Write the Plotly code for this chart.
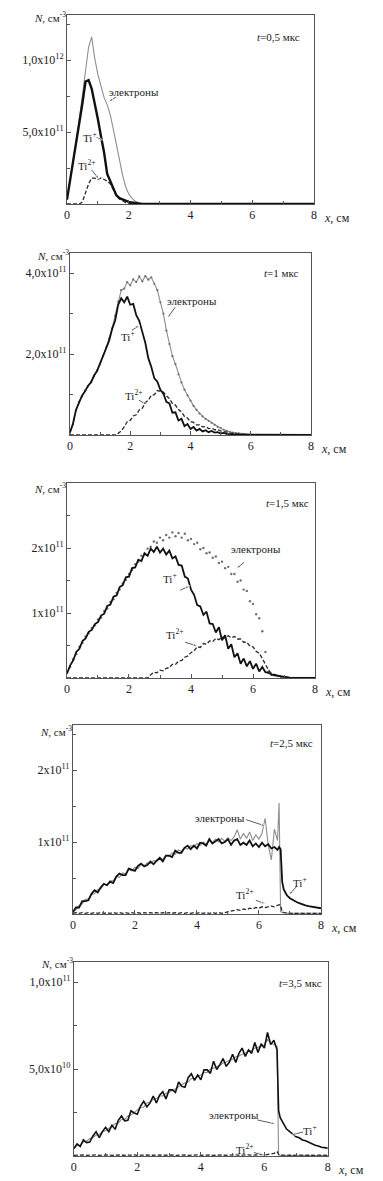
import plotly.graph_objects as go

W, H = 383, 1181
FONT = "Liberation Serif"

# ---------------- data (densities; unit noted per panel) ----------------
# Panel 1: t = 0.5 us, values in 1e11 cm^-3
X1 = [0.0, 0.1, 0.2, 0.3, 0.4, 0.5, 0.6, 0.7, 0.8, 0.9,
      1.0, 1.1, 1.2, 1.3, 1.4, 1.5, 1.6, 1.7, 1.8, 1.9,
      2.0, 2.1, 2.2, 2.3, 2.4, 2.5, 3.0, 8.0]
E1 = [0.3, 1.6, 3.0, 4.4, 5.9, 7.5, 9.3, 10.9, 11.6, 10.1,
      9.0, 8.1, 7.4, 6.9, 6.2, 5.2, 4.1, 3.0, 2.0, 1.2,
      0.7, 0.4, 0.2, 0.1, 0.05, 0.02, 0.0, 0.0]
TI1_PLUS = [0.3, 1.6, 2.9, 4.2, 5.6, 7.0, 8.5, 8.6, 8.0, 7.0,
            5.9, 4.7, 3.6, 2.1, 1.6, 1.0, 0.6, 0.4, 0.3, 0.2,
            0.15, 0.1, 0.05, 0.02, 0.0, 0.0, 0.0, 0.0]
TI1_2PLUS = [0.0, 0.0, 0.0, 0.0, 0.0, 0.15, 0.8, 1.4, 1.8, 1.8,
             1.7, 1.8, 1.7, 1.6, 1.4, 1.0, 0.6, 0.35, 0.2, 0.1,
             0.05, 0.02, 0.0, 0.0, 0.0, 0.0, 0.0, 0.0]

# Panels 2 and 3 share this grid
X_FULL = [0.0, 0.1, 0.2, 0.3, 0.4, 0.5, 0.6, 0.7, 0.8, 0.9,
          1.0, 1.1, 1.2, 1.3, 1.4, 1.5, 1.6, 1.7, 1.8, 1.9,
          2.0, 2.1, 2.2, 2.3, 2.4, 2.5, 2.6, 2.7, 2.8, 2.9,
          3.0, 3.1, 3.2, 3.3, 3.4, 3.5, 3.6, 3.7, 3.8, 3.9,
          4.0, 4.1, 4.2, 4.3, 4.4, 4.5, 4.6, 4.7, 4.8, 4.9,
          5.0, 5.1, 5.2, 5.3, 5.4, 5.5, 5.6, 5.7, 5.8, 5.9,
          6.0, 6.1, 6.2, 6.3, 6.4, 6.5, 6.6, 6.7, 6.8, 6.9,
          7.0, 7.1, 7.2, 7.3, 7.4, 7.5, 7.6, 7.7, 7.8, 7.9, 8.0]

# Panel 2: t = 1 us, 1e11 cm^-3
E2 = [0.05, 0.26, 0.60, 0.82, 0.95, 1.10, 1.20, 1.32, 1.45, 1.60,
      1.76, 1.96, 2.16, 2.38, 2.64, 2.95, 3.30, 3.58, 3.62, 3.78,
      3.70, 3.85, 3.78, 3.92, 3.80, 3.93, 3.84, 3.90, 3.74, 3.58,
      3.28, 3.00, 2.58, 2.25, 1.95, 1.75, 1.50, 1.30, 1.12, 0.98,
      0.85, 0.72, 0.62, 0.53, 0.46, 0.40, 0.35, 0.30, 0.25, 0.20,
      0.17, 0.13, 0.10, 0.08, 0.06, 0.05, 0.04, 0.03, 0.02, 0.01,
      0.01, 0.0, 0.0, 0.0, 0.0, 0.0, 0.0, 0.0, 0.0, 0.0,
      0.0, 0.0, 0.0, 0.0, 0.0, 0.0, 0.0, 0.0, 0.0, 0.0, 0.0]
TI2_PLUS = [0.06, 0.28, 0.62, 0.80, 0.97, 1.08, 1.22, 1.30, 1.47, 1.58,
            1.77, 1.93, 2.17, 2.33, 2.62, 2.83, 3.22, 3.38, 3.28, 3.42,
            3.22, 3.24, 2.96, 2.82, 2.55, 2.28, 1.90, 1.68, 1.40, 1.32,
            1.12, 1.02, 0.82, 0.78, 0.55, 0.56, 0.36, 0.40, 0.22, 0.27,
            0.15, 0.20, 0.11, 0.15, 0.09, 0.12, 0.07, 0.10, 0.06, 0.07,
            0.04, 0.05, 0.03, 0.03, 0.02, 0.01, 0.01, 0.0, 0.0, 0.0,
            0.0, 0.0, 0.0, 0.0, 0.0, 0.0, 0.0, 0.0, 0.0, 0.0,
            0.0, 0.0, 0.0, 0.0, 0.0, 0.0, 0.0, 0.0, 0.0, 0.0, 0.0]
TI2_2PLUS = [0.0, 0.0, 0.0, 0.0, 0.0, 0.0, 0.0, 0.0, 0.0, 0.0,
             0.0, 0.0, 0.0, 0.0, 0.0, 0.0, 0.04, 0.10, 0.20, 0.33,
             0.36, 0.47, 0.50, 0.62, 0.66, 0.80, 0.86, 0.98, 1.00, 1.10,
             1.08, 1.06, 0.97, 0.90, 0.78, 0.74, 0.63, 0.57, 0.46, 0.42,
             0.33, 0.31, 0.25, 0.25, 0.20, 0.21, 0.16, 0.17, 0.13, 0.13,
             0.10, 0.09, 0.07, 0.05, 0.04, 0.03, 0.02, 0.01, 0.0, 0.0,
             0.0, 0.0, 0.0, 0.0, 0.0, 0.0, 0.0, 0.0, 0.0, 0.0,
             0.0, 0.0, 0.0, 0.0, 0.0, 0.0, 0.0, 0.0, 0.0, 0.0, 0.0]

# Panel 3: t = 1.5 us, 1e11 cm^-3
E3 = [0.08, 0.17, 0.29, 0.37, 0.48, 0.54, 0.64, 0.69, 0.77, 0.81,
      0.90, 0.93, 1.03, 1.07, 1.17, 1.21, 1.31, 1.36, 1.46, 1.51,
      1.60, 1.66, 1.75, 1.79, 1.88, 1.90, 1.99, 2.02, 2.10, 2.08,
      2.16, 2.12, 2.20, 2.16, 2.24, 2.18, 2.23, 2.16, 2.22, 2.12,
      2.14, 2.06, 2.08, 1.98, 2.00, 1.92, 1.93, 1.85, 1.87, 1.77,
      1.79, 1.69, 1.71, 1.60, 1.60, 1.48, 1.50, 1.36, 1.34, 1.18,
      1.14, 0.98, 0.92, 0.72, 0.40, 0.10, 0.05, 0.04, 0.03, 0.02,
      0.01, 0.0, 0.0, 0.0, 0.0, 0.0, 0.0, 0.0, 0.0, 0.0, 0.0]
TI3_PLUS = [0.07, 0.19, 0.27, 0.40, 0.45, 0.57, 0.61, 0.71, 0.74, 0.83,
            0.86, 0.96, 0.99, 1.11, 1.13, 1.25, 1.27, 1.40, 1.43, 1.55,
            1.56, 1.69, 1.70, 1.82, 1.80, 1.92, 1.88, 1.99, 1.94, 2.02,
            1.93, 1.99, 1.90, 1.96, 1.84, 1.87, 1.74, 1.73, 1.56, 1.53,
            1.36, 1.28, 1.12, 1.10, 0.97, 1.02, 0.84, 0.83, 0.70, 0.78,
            0.58, 0.66, 0.45, 0.52, 0.32, 0.38, 0.22, 0.30, 0.18, 0.26,
            0.14, 0.22, 0.10, 0.17, 0.09, 0.08, 0.05, 0.04, 0.03, 0.02,
            0.01, 0.01, 0.0, 0.0, 0.0, 0.0, 0.0, 0.0, 0.0, 0.0, 0.0]
TI3_2PLUS = [0.0, 0.0, 0.0, 0.0, 0.0, 0.0, 0.0, 0.0, 0.0, 0.0,
             0.0, 0.0, 0.0, 0.0, 0.0, 0.0, 0.0, 0.0, 0.0, 0.0,
             0.0, 0.0, 0.0, 0.0, 0.0, 0.0, 0.0, 0.05, 0.09, 0.08,
             0.12, 0.11, 0.15, 0.16, 0.21, 0.21, 0.26, 0.27, 0.32, 0.34,
             0.39, 0.42, 0.48, 0.47, 0.53, 0.52, 0.57, 0.56, 0.61, 0.59,
             0.63, 0.61, 0.65, 0.62, 0.64, 0.60, 0.60, 0.55, 0.55, 0.49,
             0.48, 0.41, 0.38, 0.30, 0.20, 0.12, 0.07, 0.05, 0.03, 0.02,
             0.02, 0.01, 0.0, 0.0, 0.0, 0.0, 0.0, 0.0, 0.0, 0.0, 0.0]

# Panel 4: t = 2.5 us, 1e11 cm^-3
X4 = [0.0, 0.1, 0.2, 0.3, 0.4, 0.5, 0.6, 0.7, 0.8, 0.9,
      1.0, 1.1, 1.2, 1.3, 1.4, 1.5, 1.6, 1.7, 1.8, 1.9,
      2.0, 2.1, 2.2, 2.3, 2.4, 2.5, 2.6, 2.7, 2.8, 2.9,
      3.0, 3.1, 3.2, 3.3, 3.4, 3.5, 3.6, 3.7, 3.8, 3.9,
      4.0, 4.1, 4.2, 4.3, 4.4, 4.5, 4.6, 4.7, 4.8, 4.9,
      5.0, 5.1, 5.2, 5.3, 5.4, 5.5, 5.6, 5.7, 5.8, 5.9,
      6.0, 6.1, 6.2, 6.3, 6.4, 6.5, 6.6,
      6.65, 6.7, 6.75,
      6.8, 6.9, 7.0, 7.1, 7.2, 7.3, 7.4, 7.5, 7.6, 7.7, 7.8, 7.9, 8.0]
E4 = [0.02, 0.06, 0.12, 0.14, 0.20, 0.21, 0.27, 0.28, 0.34, 0.35,
      0.41, 0.40, 0.46, 0.46, 0.52, 0.51, 0.57, 0.56, 0.62, 0.60,
      0.65, 0.63, 0.69, 0.67, 0.71, 0.70, 0.74, 0.73, 0.78, 0.76,
      0.81, 0.80, 0.85, 0.83, 0.89, 0.87, 0.92, 0.90, 0.95, 0.93,
      0.98, 0.95, 1.00, 0.97, 1.02, 0.99, 1.04, 1.00, 1.05, 1.01,
      1.06, 1.02, 1.07, 1.17, 1.04, 1.12, 1.05, 1.14, 1.02, 1.10,
      1.04, 1.12, 1.33, 0.96, 0.75, 1.18, 1.02,
      1.54, 0.03, 0.02,
      0.02, 0.01, 0.01, 0.01, 0.01, 0.01, 0.01, 0.01, 0.01, 0.01, 0.01, 0.01, 0.01]
TI4_PLUS = [0.03, 0.09, 0.09, 0.18, 0.18, 0.19, 0.28, 0.33, 0.30, 0.37,
            0.42, 0.40, 0.45, 0.43, 0.52, 0.56, 0.54, 0.54, 0.63, 0.61,
            0.60, 0.67, 0.70, 0.66, 0.68, 0.73, 0.69, 0.74, 0.78, 0.73,
            0.81, 0.81, 0.79, 0.88, 0.85, 0.85, 0.92, 0.95, 0.90, 0.95,
            0.91, 0.99, 0.98, 0.95, 1.04, 0.98, 1.01, 1.04, 0.98, 1.00,
            1.04, 0.96, 1.02, 1.04, 0.96, 0.99, 0.96, 1.02, 0.94, 0.98,
            0.93, 0.99, 0.94, 0.97, 0.91, 0.93, 0.89,
            0.93, 0.90, 0.45,
            0.34, 0.26, 0.22, 0.19, 0.17, 0.15, 0.13, 0.12, 0.11, 0.10, 0.09, 0.08, 0.08]
TI4_2PLUS = [0.01, 0.02, 0.01, 0.02, 0.01, 0.02, 0.01, 0.02, 0.01, 0.02,
             0.01, 0.02, 0.01, 0.02, 0.01, 0.02, 0.01, 0.02, 0.01, 0.02,
             0.01, 0.02, 0.01, 0.02, 0.01, 0.02, 0.01, 0.02, 0.01, 0.02,
             0.01, 0.02, 0.01, 0.02, 0.01, 0.02, 0.01, 0.02, 0.01, 0.02,
             0.01, 0.02, 0.01, 0.02, 0.01, 0.02, 0.01, 0.02, 0.01, 0.02,
             0.02, 0.03, 0.05, 0.06, 0.05, 0.07, 0.06, 0.08, 0.07, 0.09,
             0.08, 0.10, 0.09, 0.10, 0.11, 0.10, 0.12,
             0.13, 0.12, 0.03,
             0.02, 0.01, 0.01, 0.01, 0.01, 0.01, 0.01, 0.01, 0.01, 0.01, 0.01, 0.01, 0.01]

# Panel 5: t = 3.5 us, 1e10 cm^-3
X5 = [0.0, 0.1, 0.2, 0.3, 0.4, 0.5, 0.6, 0.7, 0.8, 0.9,
      1.0, 1.1, 1.2, 1.3, 1.4, 1.5, 1.6, 1.7, 1.8, 1.9,
      2.0, 2.1, 2.2, 2.3, 2.4, 2.5, 2.6, 2.7, 2.8, 2.9,
      3.0, 3.1, 3.2, 3.3, 3.4, 3.5, 3.6, 3.7, 3.8, 3.9,
      4.0, 4.1, 4.2, 4.3, 4.4, 4.5, 4.6, 4.7, 4.8, 4.9,
      5.0, 5.1, 5.2, 5.3, 5.4, 5.5, 5.6, 5.7, 5.8, 5.9,
      6.0, 6.1, 6.2, 6.3, 6.4,
      6.45,
      6.5, 6.6, 6.7, 6.8, 6.9, 7.0, 7.1, 7.2, 7.3, 7.4, 7.5, 7.6, 7.7, 7.8, 7.9, 8.0]
E5 = [0.40, 0.60, 0.62, 0.80, 0.85, 1.00, 1.05, 1.20, 1.25, 1.40,
      1.45, 1.60, 1.70, 1.85, 1.90, 2.10, 2.10, 2.30, 2.35, 2.50,
      2.60, 2.80, 2.80, 3.05, 3.10, 3.25, 3.30, 3.45, 3.45, 3.60,
      3.65, 3.80, 3.85, 4.00, 4.10, 4.20, 4.25, 4.45, 4.45, 4.60,
      4.65, 4.80, 4.80, 5.00, 5.05, 5.15, 5.20, 5.35, 5.40, 5.50,
      5.55, 5.70, 5.75, 5.85, 5.90, 6.05, 6.05, 6.20, 6.25, 6.30,
      6.40, 6.70, 6.50, 6.40, 6.30,
      0.05,
      0.03, 0.02, 0.02, 0.02, 0.02, 0.02, 0.02, 0.02, 0.02, 0.02, 0.02, 0.02, 0.02, 0.02, 0.02, 0.02]
TI5_PLUS = [0.44, 0.70, 0.55, 0.93, 0.77, 0.80, 1.15, 1.40, 1.05, 1.40,
            1.65, 1.40, 1.77, 1.53, 2.05, 2.30, 2.02, 2.05, 2.60, 2.47,
            2.40, 2.87, 3.15, 2.82, 3.05, 3.45, 3.05, 3.50, 3.70, 3.28,
            3.80, 3.80, 3.65, 4.25, 4.00, 3.95, 4.50, 4.73, 4.35, 4.65,
            4.38, 4.95, 4.95, 4.75, 5.45, 4.97, 5.25, 5.60, 5.15, 5.40,
            5.85, 5.38, 5.90, 6.20, 5.72, 6.10, 5.90, 6.52, 5.95, 6.45,
            6.20, 7.10, 6.40, 6.65, 6.10,
            2.60,
            2.20, 1.85, 1.55, 1.40, 1.25, 1.10, 1.05, 0.92, 0.88, 0.78, 0.72, 0.62, 0.58, 0.50, 0.48, 0.44]
TI5_2PLUS = [0.04, 0.06, 0.04, 0.06, 0.04, 0.06, 0.04, 0.06, 0.04, 0.06,
             0.04, 0.06, 0.04, 0.06, 0.04, 0.06, 0.04, 0.06, 0.04, 0.06,
             0.04, 0.06, 0.04, 0.06, 0.04, 0.06, 0.04, 0.06, 0.04, 0.06,
             0.04, 0.06, 0.04, 0.06, 0.04, 0.06, 0.04, 0.06, 0.04, 0.06,
             0.04, 0.06, 0.04, 0.06, 0.04, 0.06, 0.04, 0.06, 0.04, 0.06,
             0.05, 0.07, 0.05, 0.07, 0.05, 0.07, 0.05, 0.07, 0.05, 0.08,
             0.06, 0.09, 0.08, 0.15, 0.25,
             0.10,
             0.05, 0.04, 0.05, 0.04, 0.05, 0.04, 0.05, 0.04, 0.05, 0.04, 0.05, 0.04, 0.05, 0.04, 0.05, 0.04]

X_TICKS = [0, 2, 4, 6, 8]
X_TICK_TEXT = ["0", "2", "4", "6", "8"]

# ---------------- layout config ----------------
panels = [
    dict(x=X1, e=E1, p=TI1_PLUS, p2=TI1_2PLUS, unit=1e11,
         box=(65, 316, 15, 204), ytop=13.125, yticks=[5, 10],
         yticktext=["5,0x10<sup>11</sup>", "1,0x10<sup>12</sup>"], yminor=2.5,
         emode="lines", pw=2.4, nlab=17, t="<i>t</i>=0,5 мкс", tpos=(6.85, 11.6),
         lab_e=((2.17, 7.78), (1.59, 7.43), (1.34, 7.08)),
         lab_p=((0.73, 4.65), (0.96, 4.62), (1.15, 4.44)),
         lab_p2=((0.64, 2.71), (0.80, 2.36), (1.05, 1.70))),
    dict(x=X_FULL, e=E2, p=TI2_PLUS, p2=TI2_2PLUS, unit=1e11,
         box=(68, 313, 253, 435), ytop=4.5, yticks=[2, 4],
         yticktext=["2,0x10<sup>11</sup>", "4,0x10<sup>11</sup>"], yminor=1.0,
         emode="lines+markers", pw=1.8, nlab=255, t="<i>t</i>=1 мкс", tpos=(7.02, 4.0),
         lab_e=((4.05, 3.31), (3.49, 3.16), (3.23, 2.89)),
         lab_p=((1.93, 2.44), (2.06, 2.59), (2.32, 2.72)),
         lab_p2=((2.12, 0.99), (2.29, 0.86), (2.58, 0.74))),
    dict(x=X_FULL, e=E3, p=TI3_PLUS, p2=TI3_2PLUS, unit=1e11,
         box=(65, 317, 483, 678), ytop=3.0, yticks=[1, 2],
         yticktext=["1x10<sup>11</sup>", "2x10<sup>11</sup>"], yminor=0.5,
         emode="markers", pw=1.8, nlab=488, t="<i>t</i>=1,5 мкс", tpos=(7.11, 2.69),
         lab_e=((6.10, 1.98), (5.71, 1.78), (5.46, 1.68)),
         lab_p=((3.33, 1.54), (3.65, 1.35), (3.97, 1.42)),
         lab_p2=((3.49, 0.68), (3.81, 0.55), (4.22, 0.49))),
    dict(x=X4, e=E4, p=TI4_PLUS, p2=TI4_2PLUS, unit=1e11,
         box=(71, 323, 725, 914), ytop=2.625, yticks=[1, 2],
         yticktext=["1x10<sup>11</sup>", "2x10<sup>11</sup>"], yminor=0.5,
         emode="lines", pw=1.8, nlab=731, t="<i>t</i>=2,5 мкс", tpos=(7.05, 2.38),
         lab_e=((4.73, 1.33), (5.59, 1.31), (6.22, 1.22)),
         lab_p=((7.33, 0.44), (7.20, 0.375), (6.95, 0.26)),
         lab_p2=((5.56, 0.28), (5.90, 0.19), (6.22, 0.14))),
    dict(x=X5, e=E5, p=TI5_PLUS, p2=TI5_2PLUS, unit=1e10,
         box=(72, 330, 962, 1156), ytop=11.15, yticks=[5, 10],
         yticktext=["5,0x10<sup>10</sup>", "1,0x10<sup>11</sup>"], yminor=2.5,
         emode="lines", pw=1.6, nlab=963, t="<i>t</i>=3,5 мкс", tpos=(7.13, 9.94),
         lab_e=((5.05, 2.36), (5.78, 2.07), (6.36, 1.84)),
         lab_p=((7.44, 1.49), (7.22, 1.38), (6.85, 1.21)),
         lab_p2=((5.40, 0.40), (5.67, 0.20), (5.98, 0.06))),
]

fig = go.Figure()
annotations = []
TXT = "#222222"
AXC = "#555555"

for i, P in enumerate(panels):
    n = "" if i == 0 else str(i + 1)
    xa, ya = "x" + n, "y" + n
    u = P["unit"]
    l, r, t, b = P["box"]

    # electrons
    fig.add_trace(go.Scatter(
        x=P["x"], y=[v * u for v in P["e"]], xaxis=xa, yaxis=ya,
        mode=P["emode"],
        line=dict(color="#8e8e8e", width=1.1),
        marker=dict(size=2.4 if P["emode"] == "markers" else 2.2, color="#707070"),
        showlegend=False, hoverinfo="skip"))
    # Ti2+
    fig.add_trace(go.Scatter(
        x=P["x"], y=[v * u for v in P["p2"]], xaxis=xa, yaxis=ya, mode="lines",
        line=dict(color="#2a2a2a", width=1.3, dash="4px,2px"),
        showlegend=False, hoverinfo="skip"))
    # Ti+
    fig.add_trace(go.Scatter(
        x=P["x"], y=[v * u for v in P["p"]], xaxis=xa, yaxis=ya, mode="lines",
        line=dict(color="#111111", width=P["pw"]),
        showlegend=False, hoverinfo="skip"))

    fig.update_layout(**{
        "xaxis" + n: dict(
            domain=[l / W, r / W], anchor=ya, range=[0, 8],
            tickmode="array", tickvals=X_TICKS, ticktext=X_TICK_TEXT,
            ticks="inside", ticklen=4, tickwidth=1, tickcolor=AXC,
            showline=True, linecolor=AXC, linewidth=1, mirror=True,
            showgrid=False, zeroline=False,
            tickfont=dict(family=FONT, size=12, color=TXT),
            minor=dict(tickmode="linear", tick0=0, dtick=1, ticks="inside",
                       ticklen=3, tickcolor=AXC, showgrid=False),
        ),
        "yaxis" + n: dict(
            domain=[1 - b / H, 1 - t / H], anchor=xa, range=[0, P["ytop"] * u],
            tickmode="array", tickvals=[v * u for v in P["yticks"]],
            ticktext=P["yticktext"],
            ticks="inside", ticklen=4, tickwidth=1, tickcolor=AXC,
            showline=True, linecolor=AXC, linewidth=1, mirror=True,
            showgrid=False, zeroline=False,
            tickfont=dict(family=FONT, size=12, color=TXT),
            minor=dict(tickmode="linear", tick0=0, dtick=P["yminor"] * u,
                       ticks="inside", ticklen=3, tickcolor=AXC, showgrid=False),
        ),
    })

    # axis titles
    annotations.append(dict(
        xref="paper", yref="paper", x=(l + 1) / W, y=1 - P["nlab"] / H,
        xanchor="right", yanchor="middle", showarrow=False,
        text="<i>N</i>, см<sup>-3</sup>", font=dict(family=FONT, size=11, color=TXT)))
    annotations.append(dict(
        xref="paper", yref="paper", x=(r + 8) / W, y=1 - (b + 14) / H,
        xanchor="left", yanchor="middle", showarrow=False,
        text="<i>x</i>, см", font=dict(family=FONT, size=12, color=TXT)))
    # time label
    annotations.append(dict(
        xref=xa, yref=ya, x=P["tpos"][0], y=P["tpos"][1] * u,
        showarrow=False, text=P["t"], font=dict(family=FONT, size=11, color=TXT)))
    # curve labels, each with a small pointer arrow drawn as a 2-point trace
    for key, label in (("lab_e", "электроны"), ("lab_p", "Ti<sup>+</sup>"),
                       ("lab_p2", "Ti<sup>2+</sup>")):
        (tx, ty), (ax_, ay_), (hx, hy) = P[key]
        annotations.append(dict(
            xref=xa, yref=ya, x=tx, y=ty * u, showarrow=False, text=label,
            font=dict(family=FONT, size=11, color=TXT)))
        fig.add_trace(go.Scatter(
            x=[ax_, hx], y=[ay_ * u, hy * u], xaxis=xa, yaxis=ya,
            mode="lines+markers",
            line=dict(color="#333333", width=0.8),
            marker=dict(symbol=["circle", "arrow"], size=[0, 5],
                        angleref="previous", color="#333333"),
            showlegend=False, hoverinfo="skip"))

fig.update_layout(
    width=W, height=H, autosize=False,
    margin=dict(l=0, r=0, t=0, b=0),
    paper_bgcolor="white", plot_bgcolor="white",
    font=dict(family=FONT, size=12, color=TXT),
    annotations=annotations,
    showlegend=False,
)

fig.write_html("out.html", config={"displayModeBar": False},
               post_script="document.body.style.margin='0px';")
